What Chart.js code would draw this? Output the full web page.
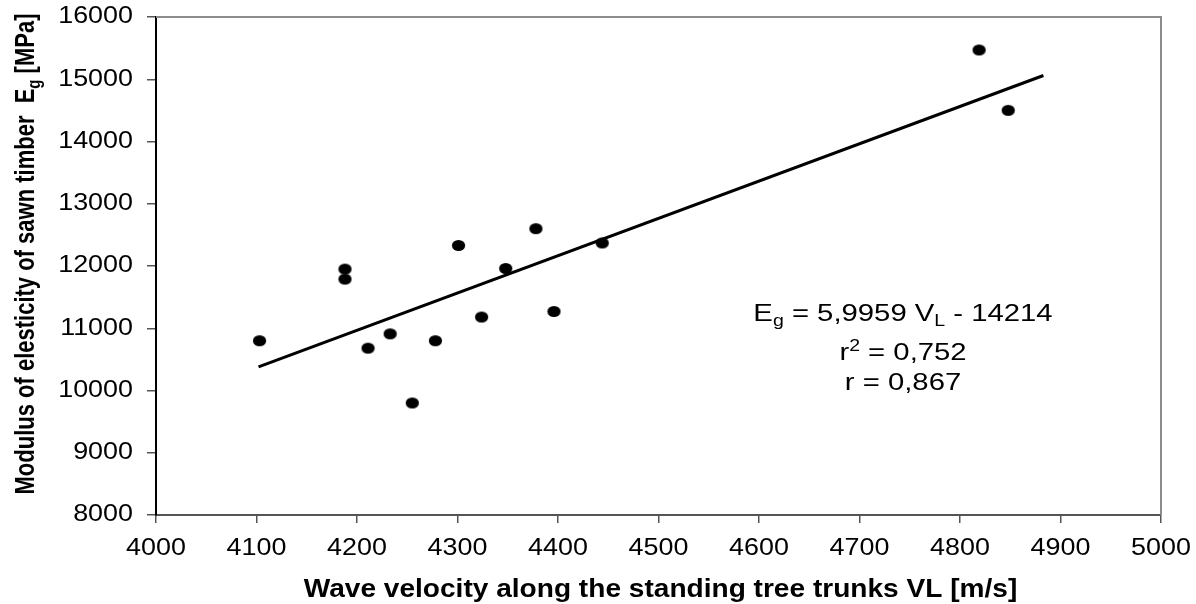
<!DOCTYPE html>
<html>
<head>
<meta charset="utf-8">
<script src="https://cdn.jsdelivr.net/npm/chart.js@4.4.1/dist/chart.umd.min.js"></script>
<style>
html, body { margin: 0; padding: 0; background: #fff; }
canvas { display: block; }
</style>
</head>
<body>
<canvas id="myChart" width="1196" height="604"></canvas>
<script>
// measured points (wave velocity VL vs. modulus Eg)
const velocity = [4103, 4188, 4188, 4211, 4233, 4255, 4278, 4301, 4324, 4348, 4378, 4396, 4444, 4819, 4848];
const modulus = [10800, 11950, 11790, 10680, 10910, 9800, 10800, 12330, 11180, 11960, 12600, 11270, 12370, 15470, 14500];

// regression line, two ends
const trendX = [4102, 4883];
const trendY = [10380, 15060];

const xTitle = 'Wave velocity along the standing tree trunks VL [m/s]';
const eqLines = [
	[['E', 0], ['g', 1], [' = 5,9959 V', 0], ['L', 1], [' - 14214', 0]],
	[['r', 0], ['2', -1], [' = 0,752', 0]],
	[['r = 0,867', 0]]
];

const FONT = '"Liberation Sans", Arial, Helvetica, sans-serif';
Chart.defaults.font.family = FONT;

// slightly wide ellipse marker
const dot = document.createElement('canvas');
dot.width = 15;
dot.height = 13;
const dctx = dot.getContext('2d');
dctx.fillStyle = '#000';
dctx.beginPath();
dctx.ellipse(7.5, 6.5, 6.6, 5.6, 0, 0, Math.PI * 2);
dctx.fill();

function wideText(ctx, txt, x, y, sx, align) {
	ctx.save();
	ctx.translate(x, y);
	ctx.scale(sx, 1);
	ctx.textAlign = align;
	ctx.fillText(txt, 0, 0);
	ctx.restore();
}

// draws text runs (0 normal, 1 subscript, -1 superscript) centred on cx
function drawRuns(ctx, runs, cx, base, size, sx, bold) {
	const w = bold ? 'bold ' : '';
	const small = Math.round(size * 0.66);
	let total = 0;
	runs.forEach(r => {
		ctx.font = w + (r[1] ? small : size) + 'px ' + FONT;
		total += ctx.measureText(r[0]).width;
	});
	ctx.save();
	ctx.translate(cx, base);
	ctx.scale(sx, 1);
	ctx.textAlign = 'left';
	ctx.textBaseline = 'alphabetic';
	let x = -total / 2;
	runs.forEach(r => {
		ctx.font = w + (r[1] ? small : size) + 'px ' + FONT;
		const dy = r[1] === 1 ? size * 0.22 : (r[1] === -1 ? -size * 0.38 : 0);
		ctx.fillText(r[0], x, dy);
		x += ctx.measureText(r[0]).width;
	});
	ctx.restore();
}

const decor = {
	id: 'decor',
	beforeDatasetsDraw(chart) {
		const ctx = chart.ctx;
		const a = chart.chartArea;
		ctx.save();
		ctx.strokeStyle = '#8c8c8c';
		ctx.lineWidth = 2;
		ctx.beginPath();
		ctx.moveTo(a.left, a.top);
		ctx.lineTo(a.right, a.top);
		ctx.lineTo(a.right, a.bottom);
		ctx.stroke();
		ctx.restore();
	},
	afterDraw(chart) {
		const ctx = chart.ctx;
		const xs = chart.scales.x;
		const ys = chart.scales.y;
		ctx.save();
		ctx.fillStyle = '#000';
		ctx.font = '23px ' + FONT;
		ctx.textBaseline = 'middle';
		xs.ticks.forEach(t => wideText(ctx, String(t.value), xs.getPixelForValue(t.value), 549, 1.17, 'center'));
		ys.ticks.forEach(t => wideText(ctx, String(t.value), 133, ys.getPixelForValue(t.value), 1.17, 'right'));

		// axis titles
		ctx.textBaseline = 'alphabetic';
		ctx.font = 'bold 26px ' + FONT;
		wideText(ctx, xTitle, (xs.left + xs.right) / 2 + 2, 597, 1.08, 'center');

		ctx.save();
		ctx.translate(34, 254);
		ctx.scale(1.25, 1);
		ctx.rotate(-Math.PI / 2);
		drawRuns(ctx, [['Modulus of elesticity of sawn timber  E', 0], ['g', 1], [' [MPa]', 0]], 0, 0, 22, 1, true);
		ctx.restore();

		// regression text
		const bases = [321, 360, 390];
		eqLines.forEach((runs, i) => drawRuns(ctx, runs, 903, bases[i], 24, 1.22, false));
		ctx.restore();
	}
};

new Chart(document.getElementById('myChart'), {
	type: 'scatter',
	data: {
		datasets: [{
			label: 'Eg',
			data: velocity.map((v, i) => ({ x: v, y: modulus[i] })),
			pointStyle: dot,
			pointRadius: 7,
			backgroundColor: '#000',
			borderColor: '#000'
		},
		{
			label: 'trend',
			data: trendX.map((v, i) => ({ x: v, y: trendY[i] })),
			showLine: true,
			borderColor: '#000',
			borderWidth: 3,
			pointRadius: 0,
			fill: false
		}]
	},
	options: {
		responsive: false,
		animation: false,
		layout: { padding: { left: 0, right: 35, top: 17, bottom: 0 } },
		plugins: {
			legend: { display: false },
			tooltip: { enabled: false }
		},
		scales: {
			x: {
				type: 'linear',
				min: 4000,
				max: 5000,
				ticks: { stepSize: 100, color: 'rgba(0,0,0,0)', font: { size: 23 } },
				grid: { drawOnChartArea: false, tickLength: 8, color: '#555', lineWidth: 1.5 },
				border: { color: '#555', width: 2 },
				afterFit: s => { s.height = 89; }
			},
			y: {
				min: 8000,
				max: 16000,
				ticks: { stepSize: 1000, color: 'rgba(0,0,0,0)', font: { size: 23 } },
				grid: { drawOnChartArea: false, tickLength: 9, color: '#555', lineWidth: 1.5 },
				border: { color: '#000', width: 2 },
				afterFit: s => { s.width = 156; }
			}
		}
	},
	plugins: [decor]
});
</script>
</body>
</html>
